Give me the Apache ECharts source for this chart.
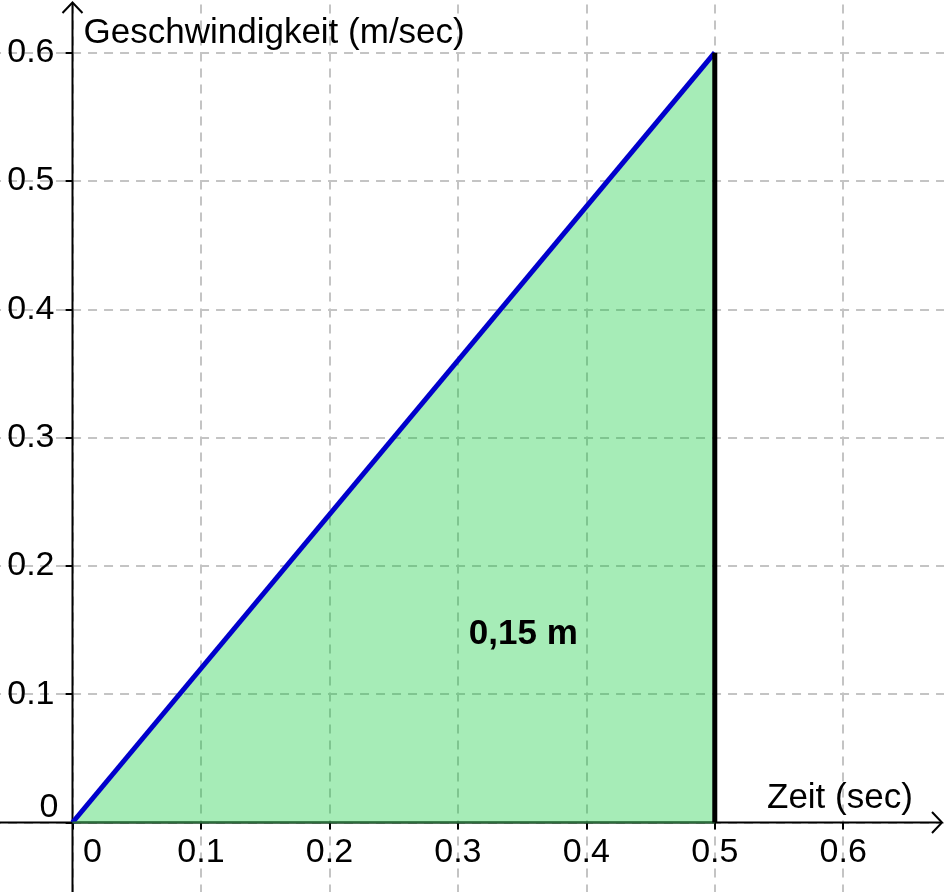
<!DOCTYPE html>
<html>
<head>
<meta charset="utf-8">
<script src="https://cdn.jsdelivr.net/npm/echarts@6/dist/echarts.min.js"></script>
<style>
html,body{margin:0;padding:0;background:#fff;}
#chart{width:944px;height:892px;}
</style>
</head>
<body>
<div id="chart"></div>
<script>
// ---- data ----
const xTicks = [0, 0.1, 0.2, 0.3, 0.4, 0.5, 0.6];
const xTickLabels = ['0', '0.1', '0.2', '0.3', '0.4', '0.5', '0.6'];
const yTicks = [0, 0.1, 0.2, 0.3, 0.4, 0.5, 0.6];
const yTickLabels = ['0', '0.1', '0.2', '0.3', '0.4', '0.5', '0.6'];
const timeSec = [0, 0.5];
const speed = [0, 0.6];
const areaLabel = '0,15 m';
const xTitle = 'Zeit (sec)';
const yTitle = 'Geschwindigkeit (m/sec)';

// ---- styles ----
const FONT = '"Liberation Sans", Arial, sans-serif';
const FS = 34;
const TFS = 35;

const chart = echarts.init(document.getElementById('chart'), null, {renderer: 'canvas'});

const lineData = timeSec.map((t, i) => [t, speed[i]]);
const edgeData = [[timeSec[1], 0], [timeSec[1], speed[1]]];
const baseData = [[timeSec[0], 0], [timeSec[1], 0]];

const gridLine = {show: true, lineStyle: {color: '#c4c4c4', width: 2, type: [9, 7]}};

const option = {
  animation: false,
  backgroundColor: '#ffffff',
  grid: {left: -55.96, right: -27.7, top: -75.6, bottom: -58.8, containLabel: false, outerBoundsMode: 'none'},
  xAxis: {
    type: 'value', min: -0.1, max: 0.7, interval: 0.1,
    axisLine: {show: false, onZero: true},
    axisTick: {show: true, length: 7, lineStyle: {color: '#000', width: 2}},
    axisLabel: {show: false},
    splitLine: gridLine
  },
  yAxis: {
    type: 'value', min: -0.1, max: 0.7, interval: 0.1,
    axisLine: {show: false, onZero: true},
    axisTick: {show: true, length: 7, lineStyle: {color: '#000', width: 2}},
    axisLabel: {show: false},
    splitLine: gridLine
  },
  series: [
    {
      // axes with open arrow heads
      type: 'custom', z: 3, silent: true,
      data: [[0, 0]],
      renderItem: function (params, api) {
        const o = api.coord([0, 0]);
        const w = api.getWidth(), h = api.getHeight();
        const st = {stroke: '#000', lineWidth: 2, fill: null};
        return {type: 'group', children: [
          {type: 'line', shape: {x1: 0, y1: o[1], x2: w - 2, y2: o[1]}, style: st},
          {type: 'polyline', shape: {points: [[w - 12, o[1] - 10.5], [w - 2, o[1]], [w - 12, o[1] + 10.5]]}, style: st},
          {type: 'line', shape: {x1: o[0], y1: h, x2: o[0], y2: 3}, style: st},
          {type: 'polyline', shape: {points: [[o[0] - 10, 13], [o[0], 2.5], [o[0] + 10, 13]]}, style: st}
        ]};
      }
    },
    {
      type: 'line', z: 4, data: lineData, symbol: 'none',
      lineStyle: {color: '#0000cc', width: 5},
      areaStyle: {color: 'rgba(0,201,49,0.35)', opacity: 1}
    },
    {
      type: 'line', z: 4, data: baseData, symbol: 'none',
      lineStyle: {color: '#2b6b3b', width: 2}
    },
    {
      type: 'line', z: 5, data: edgeData, symbol: 'none',
      lineStyle: {color: '#000', width: 5}
    },
    {
      // x tick labels
      type: 'custom', z: 6, silent: true,
      data: xTicks.map(v => [v, 0]),
      renderItem: function (params, api) {
        const v = api.value(0);
        const p = api.coord([v, 0]);
        const dx = v === 0 ? 20 : 0;
        return {type: 'text', x: p[0] + dx, y: p[1] + 30,
          style: {text: xTickLabels[params.dataIndex], fontSize: FS, fontFamily: FONT, fill: '#000', align: 'center', verticalAlign: 'middle'}};
      }
    },
    {
      // y tick labels
      type: 'custom', z: 6, silent: true,
      data: yTicks.map(v => [0, v]),
      renderItem: function (params, api) {
        const v = api.value(1);
        const p = api.coord([0, v]);
        const dx = v === 0 ? -14 : -18;
        const dy = v === 0 ? -15 : 0;
        return {type: 'text', x: p[0] + dx, y: p[1] + dy,
          style: {text: yTickLabels[params.dataIndex], fontSize: FS, fontFamily: FONT, fill: '#000', align: 'right', verticalAlign: 'middle'}};
      }
    }
  ],
  graphic: [
    {type: 'text', x: 83.5, y: 33.5, z: 10,
      style: {text: yTitle, fontSize: TFS, fontFamily: FONT, fill: '#000', align: 'left', verticalAlign: 'middle'}},
    {type: 'text', x: 767, y: 798, z: 10,
      style: {text: xTitle, fontSize: TFS, fontFamily: FONT, fill: '#000', align: 'left', verticalAlign: 'middle'}},
    {type: 'text', x: 523.3, y: 634, z: 10,
      style: {text: areaLabel, fontSize: TFS, fontWeight: 'bold', fontFamily: FONT, fill: '#000', align: 'center', verticalAlign: 'middle'}}
  ]
};
chart.setOption(option);
</script>
</body>
</html>
